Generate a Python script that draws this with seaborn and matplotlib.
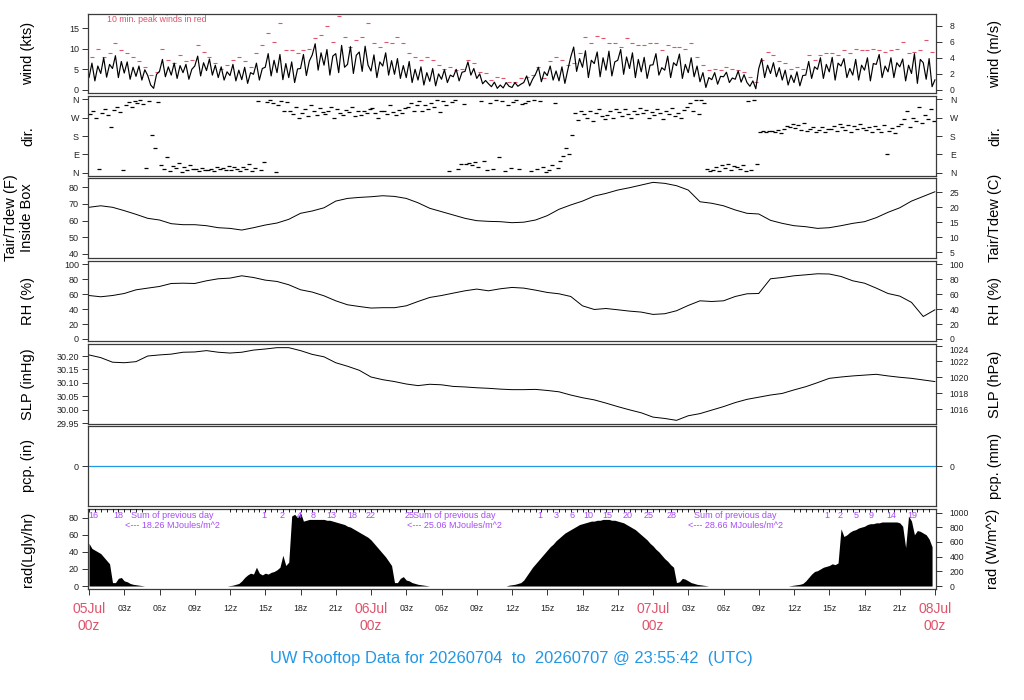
import numpy as np
import pandas as pd
import matplotlib
matplotlib.use("Agg")
import matplotlib.pyplot as plt
import seaborn as sns

# ---------------- data ----------------
# wind speed (kts), 15-minute samples from 05Jul 00z
wind_kts = [
    3.0, 6.5, 2.2, 5.8, 4.0, 7.8, 3.1, 6.2, 5.2, 8.3, 3.0, 6.9, 4.1, 6.8, 2.6, 5.5,
    3.3, 5.8, 2.4, 4.9, 3.5, 1.2, 0.4, 3.8, 4.5, 7.4, 3.2, 5.6, 3.6, 6.5, 2.8, 5.9,
    4.2, 6.2, 2.6, 5.0, 5.8, 8.2, 3.4, 6.6, 4.7, 7.5, 3.6, 6.0, 3.0, 5.6, 2.4, 4.4,
    3.5, 6.2, 2.2, 4.8, 2.5, 5.5, 1.6, 4.2, 3.8, 6.5, 2.4, 5.2, 5.5, 8.8, 3.4, 7.2,
    4.2, 8.6, 2.5, 6.4, 3.0, 6.8, 1.8, 5.1, 5.2, 8.6, 3.5, 7.0, 8.5, 11.2, 4.8, 9.0,
    6.0, 9.8, 3.6, 8.2, 8.8, 4.2, 10.8, 5.5, 6.2, 10.5, 4.0, 8.4, 9.2, 4.5, 10.6, 6.0,
    4.6, 8.5, 3.0, 6.8, 5.8, 9.0, 3.6, 7.1, 3.8, 7.6, 2.8, 5.9, 3.0, 6.9, 1.8, 5.0,
    2.4, 5.6, 1.2, 4.2, 2.1, 5.2, 1.0, 3.9, 2.6, 4.9, 1.8, 3.6, 3.2, 5.0, 2.2, 4.3,
    4.5, 6.8, 3.6, 5.2, 2.8, 3.9, 1.5, 2.3, 1.5, 0.8, 1.9, 0.4, 1.2, 0.5, 1.8, 0.9,
    0.6, 1.8, 0.9, 1.4, 1.8, 3.4, 1.0, 2.6, 3.8, 5.5, 2.0, 4.4, 3.5, 5.8, 2.4, 4.6,
    2.2, 5.6, 1.6, 4.9, 8.0, 10.4, 4.5, 7.6, 5.5, 9.5, 3.0, 7.2, 6.4, 9.2, 3.2, 7.8,
    4.8, 9.4, 3.4, 6.8, 7.2, 9.8, 3.8, 8.0, 5.2, 9.0, 3.0, 7.4, 4.4, 7.9, 2.8, 6.0,
    6.1, 8.8, 3.6, 5.4, 4.8, 8.2, 3.0, 6.6, 5.9, 8.7, 2.8, 6.2, 4.2, 7.8, 3.2, 5.8,
    2.0, 4.2, 0.6, 3.0, 2.5, 4.2, 1.4, 3.3, 3.2, 4.3, 1.8, 2.9, 2.6, 4.6, 1.9, 3.7,
    1.8, 0.9, 2.2, 0.3, 5.2, 7.6, 3.0, 6.0, 4.0, 6.6, 3.2, 5.4, 2.4, 4.8, 1.2, 3.6,
    1.8, 4.4, 1.0, 3.5, 3.6, 6.9, 2.8, 5.6, 5.0, 7.8, 2.8, 6.2, 4.4, 7.9, 2.4, 6.5,
    5.8, 7.6, 3.0, 5.2, 3.6, 7.4, 2.4, 6.0, 4.8, 7.8, 2.2, 6.4, 6.2, 8.6, 3.0, 5.8,
    4.4, 7.8, 3.0, 6.6, 5.6, 7.5, 2.2, 6.0, 4.0, 8.8, 1.6, 7.4, 6.6, 2.6, 7.6, 0.8,
    2.5,
]

# 10-minute peak winds (kts), every 30 minutes
peak_kts = [
    8.0, 10.0, 8.0, 9.0, 11.3, 9.8, 8.9, 8.0, 6.9, 5.6, 3.6, 4.4,
    10.0, 7.3, 6.5, 8.5, 7.0, 7.3, 10.9, 9.3, 8.0, 6.5, 5.2, 6.0,
    7.3, 8.0, 7.0, 5.6, 8.9, 10.9, 13.7, 11.7, 16.1, 9.7, 9.7, 8.9,
    9.7, 10.0, 12.5, 13.3, 15.5, 11.7, 17.9, 12.9, 10.5, 12.1, 12.9, 16.1,
    11.3, 10.5, 11.7, 11.3, 12.9, 11.3, 8.9, 8.0, 7.3, 8.0, 7.3, 6.0,
    5.2, 5.6, 4.8, 5.2, 7.3, 6.5, 4.4, 4.0, 2.4, 3.2, 2.8, 2.0,
    2.0, 2.8, 3.2, 3.6, 5.6, 2.8, 6.9, 8.0, 7.3, 6.0, 6.5, 8.9,
    12.9, 11.3, 13.0, 12.5, 11.3, 11.3, 10.5, 12.5, 11.3, 10.9, 10.9, 11.3,
    11.3, 9.7, 10.9, 10.5, 10.5, 10.0, 11.3, 8.0, 6.0, 4.8, 5.2, 4.8,
    5.6, 5.2, 4.8, 4.4, 3.2, 2.0, 7.3, 9.3, 8.5, 6.9, 6.5, 5.2,
    5.6, 5.2, 8.5, 7.3, 8.5, 8.9, 8.9, 8.5, 9.7, 8.9, 10.0, 9.7,
    9.7, 10.0, 9.7, 9.3, 9.7, 10.0, 11.5, 8.9, 9.3, 9.7, 12.1, 9.3,
]

# wind direction (degrees), 15-minute samples
wind_dir = [
    285, 300, 270, 20, 290, 310, 280, 225, 305, 320, 295, 15, 330, 345, 320, 350,
    340, 355, 335, 25, 350, 185, 120, 345, 40, 20, 80, 10, 35, 25, 50, 5,
    30, 15, 40, 20, 20, 10, 25, 15, 15, 20, 10, 30, 20, 25, 15, 35,
    15, 30, 20, 10, 30, 20, 45, 10, 25, 350, 15, 55, 345, 355, 340, 5,
    330, 350, 300, 345, 300, 285, 320, 270, 290, 310, 275, 330, 300, 280, 315, 295,
    285, 300, 320, 270, 310, 290, 280, 305, 295, 320, 275, 300, 280, 300, 290, 310,
    315, 290, 270, 300, 300, 285, 330, 295, 280, 305, 290, 315, 320, 340, 300, 330,
    350, 300, 330, 310, 340, 320, 355, 295, 350, 330, 10, 345, 355, 20, 45, 335,
    45, 50, 40, 55, 30, 350, 60, 15, 340, 20, 355, 80, 350, 10, 330, 25,
    345, 355, 20, 335, 340, 350, 10, 355, 20, 350, 30, 5, 15, 40, 340, 25,
    60, 85, 120, 90, 185, 290, 260, 300, 285, 270, 300, 255, 290, 310, 275, 265,
    280, 300, 270, 310, 295, 275, 310, 285, 270, 300, 285, 315, 290, 305, 270, 295,
    280, 310, 290, 265, 300, 285, 315, 275, 290, 270, 305, 320, 340, 300, 355, 285,
    355, 340, 20, 10, 15, 30, 10, 40, 25, 45, 15, 35, 30, 20, 40, 10,
    350, 15, 355, 45, 200, 205, 198, 202, 205, 200, 210, 196, 215, 230, 225, 240,
    220, 235, 210, 245, 205, 215, 225, 200, 210, 225, 200, 215, 215, 230, 205, 240,
    225, 210, 235, 200, 230, 215, 240, 220, 210, 225, 200, 230, 215, 200, 235, 90,
    205, 220, 195, 230, 240, 265, 300, 225, 270, 255, 320, 245, 280, 265, 310, 255,
]

# hourly air temperature (F), relative humidity (%), sea level pressure (inHg), precip (in)
tair_f = [
    67.9, 68.8, 67.9, 65.9, 63.7, 61.3, 60.3, 58.1, 57.5, 57.5, 56.9, 55.7,
    55.3, 54.3, 55.7, 57.3, 58.5, 60.7, 64.3, 65.7, 67.6, 71.6, 73.2, 73.8,
    74.2, 74.8, 74.4, 73.2, 70.6, 67.3, 65.3, 63.3, 61.3, 59.9, 59.5, 59.3,
    58.7, 59.0, 60.3, 62.9, 66.7, 69.3, 71.6, 74.6, 76.2, 78.2, 79.6, 81.2,
    82.8, 82.2, 80.8, 78.2, 71.2, 70.3, 68.8, 66.3, 64.3, 63.9, 60.1, 58.3,
    56.9, 56.3, 55.3, 55.7, 56.9, 58.3, 59.3, 61.7, 64.9, 67.6, 71.6, 74.4,
    77.2,
]
rh_pct = [
    58.2, 56.5, 58.2, 60.9, 65.8, 68.1, 70.3, 74.3, 74.7, 74.3, 77.9, 80.6,
    81.5, 84.6, 82.3, 78.8, 77.0, 72.6, 65.9, 62.8, 57.8, 51.1, 45.8, 43.5,
    41.4, 41.9, 41.9, 44.4, 50.2, 55.6, 58.2, 61.4, 64.5, 66.8, 64.5, 67.2,
    69.0, 68.1, 65.4, 62.3, 60.5, 56.9, 44.4, 39.5, 40.8, 39.1, 37.3, 36.0,
    32.9, 33.8, 37.8, 44.9, 51.1, 50.2, 51.1, 56.9, 60.5, 60.9, 80.6, 82.3,
    84.6, 85.9, 87.3, 87.0, 83.7, 77.9, 74.7, 68.1, 60.9, 57.4, 49.0, 30.1,
    39.1,
]
slp_inhg = [
    30.204, 30.194, 30.177, 30.175, 30.179, 30.200, 30.204, 30.207, 30.214, 30.215, 30.220, 30.214,
    30.211, 30.214, 30.222, 30.226, 30.231, 30.231, 30.220, 30.206, 30.197, 30.175, 30.162, 30.147,
    30.122, 30.112, 30.105, 30.096, 30.090, 30.095, 30.093, 30.087, 30.085, 30.082, 30.080, 30.077,
    30.075, 30.075, 30.076, 30.072, 30.067, 30.055, 30.045, 30.037, 30.025, 30.012, 30.000, 29.989,
    29.973, 29.968, 29.961, 29.978, 29.986, 29.999, 30.012, 30.027, 30.039, 30.047, 30.055, 30.061,
    30.074, 30.086, 30.101, 30.117, 30.122, 30.126, 30.129, 30.132, 30.126, 30.121, 30.117, 30.111,
    30.105,
]
pcp_in = [
    0, 0, 0, 0, 0, 0, 0, 0, 0, 0, 0, 0, 0, 0, 0, 0, 0, 0, 0, 0, 0, 0, 0, 0,
    0, 0, 0, 0, 0, 0, 0, 0, 0, 0, 0, 0, 0, 0, 0, 0, 0, 0, 0, 0, 0, 0, 0, 0,
    0, 0, 0, 0, 0, 0, 0, 0, 0, 0, 0, 0, 0, 0, 0, 0, 0, 0, 0, 0, 0, 0, 0, 0,
    0,
]

# solar radiation (Langley/hr), 15-minute samples
rad_ly = [
    50, 44, 42, 40, 38, 34, 30, 26, 4, 4, 9, 10, 6, 5, 3, 2,
    1.5, 1, 0.5, 0, 0, 0, 0, 0, 0, 0, 0, 0, 0, 0, 0, 0,
    0, 0, 0, 0, 0, 0, 0, 0, 0, 0, 0, 0, 0, 0, 0, 0,
    0.5, 1, 2, 3, 6, 10, 13, 15, 14, 22, 15, 13, 15, 14, 16, 17,
    19, 22, 36, 24, 28, 82, 84, 80, 86, 76, 77, 78, 78, 78, 78, 78,
    78, 77, 77, 76, 75, 74, 73, 72, 70, 69, 67, 65, 63, 61, 59, 57,
    54, 50, 46, 42, 38, 34, 29, 24, 4, 4, 9, 11, 7, 6, 4, 3,
    2, 1.5, 1, 0.5, 0, 0, 0, 0, 0, 0, 0, 0, 0, 0, 0, 0,
    0, 0, 0, 0, 0, 0, 0, 0, 0, 0, 0, 0, 0, 0, 0, 1,
    1.5, 2, 3, 4, 7, 12, 17, 22, 26, 30, 34, 38, 42, 46, 49, 53,
    56, 59, 62, 64, 66, 68, 70, 72, 73, 74, 75, 76, 76, 77, 77, 78,
    78, 78, 77, 77, 76, 75, 74, 72, 70, 68, 66, 63, 60, 57, 54, 50,
    47, 43, 40, 36, 32, 29, 25, 22, 4, 5, 9, 8, 6, 4, 3, 2,
    1.5, 1, 0.5, 0, 0, 0, 0, 0, 0, 0, 0, 0, 0, 0, 0, 0,
    0, 0, 0, 0, 0, 0, 0, 0, 0, 0, 0, 0, 0, 0, 0, 0.5,
    1, 1.5, 2, 3, 6, 10, 14, 17, 18, 20, 22, 23, 24, 26, 25, 27,
    67, 58, 60, 63, 65, 66, 68, 69, 70, 72, 73, 73, 74, 74, 75, 75,
    75, 75, 75, 75, 74, 70, 45, 82, 76, 60, 65, 64, 62, 60, 55, 46,
]

# cumulative radiation labels along the top of the radiation panel
rad_num_labels = ["16", "18", "1", "2", "4", "8", "13", "18", "22", "25",
                  "1", "3", "6", "10", "15", "20", "25", "28",
                  "1", "2", "5", "9", "14", "19"]
rad_num_hours = [0.4, 2.5, 14.9, 16.4, 17.9, 19.1, 20.6, 22.4, 24.0, 27.3,
                 38.4, 39.8, 41.1, 42.5, 44.1, 45.8, 47.6, 49.6,
                 62.8, 63.9, 65.3, 66.6, 68.3, 70.1]
daily_sum_mj = ["18.26", "25.06", "28.66"]
daily_sum_hours = [7.1, 31.1, 55.0]

day_labels = ["05Jul", "06Jul", "07Jul", "08Jul"]
day_hours = [0, 24, 48, 72]
title = "UW Rooftop Data for 20260704  to  20260707 @ 23:55:42  (UTC)"

# ---------------- style ----------------
sns.set_theme(style="white")
plt.rcParams["font.family"] = ["Liberation Sans", "DejaVu Sans"]
plt.rcParams["axes.linewidth"] = 0.9

RED = "#DF536B"
BLUE = "#2297E6"
PURPLE = "#A64BF4"
W, H = 1024, 700
fig = plt.figure(figsize=(W / 100, H / 100), dpi=100)
fig.patch.set_facecolor("white")

LEFT, RIGHT = 88, 936
XL = ((LEFT - 89) / 11.75, (RIGHT - 89) / 11.75)
panels = {
    "wind": (14, 93), "dir": (96, 176), "tair": (178, 258), "rh": (261, 341),
    "slp": (344, 424), "pcp": (426, 506), "rad": (509, 589),
}


def make_ax(key):
    top, bot = panels[key]
    ax = fig.add_axes([LEFT / W, 1 - bot / H, (RIGHT - LEFT) / W, (bot - top) / H])
    ax.set_xlim(*XL)
    for s in ax.spines.values():
        s.set_color("#3a3a3a")
        s.set_linewidth(0.9)
    ax.tick_params(axis="x", bottom=False, labelbottom=False)
    ax.tick_params(axis="y", direction="out", length=4, width=0.7, color="#333333",
                   labelsize=6.5, pad=2.5, left=True, labelcolor="#222222")
    ax.grid(False)
    return ax


def right_axis(ax, pos, labels):
    ax2 = ax.twinx()
    ax2.set_ylim(ax.get_ylim())
    ax2.set_yticks(pos)
    ax2.set_yticklabels(labels)
    ax2.tick_params(axis="y", direction="out", length=4, width=0.7, color="#333333",
                    labelsize=6.2, pad=6, right=True, labelcolor="#222222")
    for s in ax2.spines.values():
        s.set_visible(False)
    ax2.grid(False)
    return ax2


def side_labels(key, left, right, lx=28, rx=995):
    top, bot = panels[key]
    yc = 1 - (top + bot) / 2 / H
    fig.text(lx / W, yc, left, rotation=90, ha="center", va="center", fontsize=10.5,
             linespacing=1.25, color="black")
    fig.text(rx / W, yc, right, rotation=90, ha="center", va="center", fontsize=10.5,
             color="black")


t15 = np.arange(len(wind_kts)) * 0.25
t_peak = 0.25 + np.arange(len(peak_kts)) * 0.5
t_dir = 0.125 + np.arange(len(wind_dir)) * 0.25
t_hr = np.arange(len(tair_f))
t_rad = np.arange(len(rad_ly)) * 0.25

# --- wind ---
ax = make_ax("wind")
sns.scatterplot(x=t_peak, y=peak_kts, marker="_", s=10, color=RED, linewidth=0.8, ax=ax,
                legend=False)
sns.lineplot(x=t15, y=wind_kts, color="black", linewidth=0.85, estimator=None, ax=ax)
ax.set_ylim(-0.73, 18.4)
ax.set_yticks([0, 5, 10, 15])
ax.text((107 - LEFT) / (RIGHT - LEFT), 0.935, "10 min. peak winds in red", color=RED,
        fontsize=6.3, transform=ax.transAxes, va="center", ha="left")
ms = [0, 2, 4, 6, 8]
right_axis(ax, [v * 1.943844 for v in ms], [str(v) for v in ms])
side_labels("wind", "wind (kts)", "wind (m/s)")

# --- direction ---
ax = make_ax("dir")
sns.scatterplot(x=t_dir, y=wind_dir, marker="_", s=11, color="black", linewidth=0.9, ax=ax,
                legend=False)
ax.set_ylim(-14.6, 374.6)
dticks = [0, 90, 180, 270, 360]
dlabs = ["N", "E", "S", "W", "N"]
ax.set_yticks(dticks)
ax.set_yticklabels(dlabs)
right_axis(ax, dticks, dlabs)
side_labels("dir", "dir.", "dir.")

# --- temperature ---
ax = make_ax("tair")
sns.lineplot(x=t_hr, y=tair_f, color="black", linewidth=0.7, estimator=None, ax=ax)
ax.set_ylim(37.6, 85.4)
ax.set_yticks([40, 50, 60, 70, 80])
cs = [5, 10, 15, 20, 25]
right_axis(ax, [c * 1.8 + 32 for c in cs], [str(c) for c in cs])
side_labels("tair", "Tair/Tdew (F)\nInside Box", "Tair/Tdew (C)", lx=19)

# --- RH ---
ax = make_ax("rh")
sns.lineplot(x=t_hr, y=rh_pct, color="black", linewidth=0.7, estimator=None, ax=ax)
ax.set_ylim(-2.7, 104.4)
rt = [0, 20, 40, 60, 80, 100]
ax.set_yticks(rt)
right_axis(ax, rt, [str(v) for v in rt])
side_labels("rh", "RH (%)", "RH (%)")

# --- SLP ---
ax = make_ax("slp")
sns.lineplot(x=t_hr, y=slp_inhg, color="black", linewidth=0.7, estimator=None, ax=ax)
ax.set_ylim(29.9474, 30.2446)
st = [29.95, 30.00, 30.05, 30.10, 30.15, 30.20]
ax.set_yticks(st)
ax.set_yticklabels([f"{v:.2f}" for v in st])
hp = [1016, 1018, 1020, 1022, 1024]
ax2 = right_axis(ax, [v / 33.8639 for v in hp], [str(v) for v in hp])
for lab in ax2.get_yticklabels():
    if lab.get_text() == "1024":
        lab.set_va("top")
side_labels("slp", "SLP (inHg)", "SLP (hPa)")

# --- precipitation ---
ax = make_ax("pcp")
sns.lineplot(x=t_hr, y=pcp_in, color=BLUE, linewidth=0.9, estimator=None, ax=ax)
ax.set_ylim(-1, 1)
ax.set_yticks([0])
right_axis(ax, [0], ["0"])
side_labels("pcp", "pcp. (in)", "pcp. (mm)")

# --- radiation ---
ax = make_ax("rad")
ax.fill_between(t_rad, 0, rad_ly, color="black", linewidth=0)
ax.set_ylim(-3.5, 90.2)
ax.set_yticks([0, 20, 40, 60, 80])
wm = [0, 200, 400, 600, 800, 1000]
right_axis(ax, [v / 11.622 for v in wm], [str(v) for v in wm])
side_labels("rad", "rad(Lgly/hr)", "rad (W/m^2)", rx=993)
# half-hour marks along the top where the sun was up
mark_t = [t for t, v in zip(t_rad, rad_ly) if v > 0 and (t * 2) % 1 == 0]
ax.scatter(mark_t, [89.0] * len(mark_t), marker="|", s=6, color="black", linewidths=0.6,
           zorder=3)
for lab, h in zip(rad_num_labels, rad_num_hours):
    ax.text(h, 83, lab, color=PURPLE, fontsize=6.5, ha="center", va="center")
for val, h in zip(daily_sum_mj, daily_sum_hours):
    ax.text(h, 83, "Sum of previous day", color=PURPLE, fontsize=6.5, ha="center",
            va="center")
    ax.text(h, 70.6, f"<--- {val} MJoules/m^2", color=PURPLE, fontsize=6.5, ha="center",
            va="center")

xt = list(range(0, 73, 3))
ax.set_xticks(xt)
ax.set_xticklabels(["" if h % 24 == 0 else f"{h % 24:02d}z" for h in xt])
ax.tick_params(axis="x", bottom=True, labelbottom=True, direction="out", length=4,
               width=0.7, color="#333333", labelsize=6.3, pad=7, labelcolor="#222222")
for lab, h in zip(day_labels, day_hours):
    ax.text(h, -0.255, lab, color=RED, fontsize=10, ha="center", va="center",
            transform=ax.get_xaxis_transform())
    ax.text(h, -0.46, "00z", color=RED, fontsize=10, ha="center", va="center",
            transform=ax.get_xaxis_transform())

fig.text(511 / W, 1 - 659 / H, title, color=BLUE, fontsize=11.9, ha="center", va="center")

fig.savefig("out.png", dpi=100, facecolor="white")
